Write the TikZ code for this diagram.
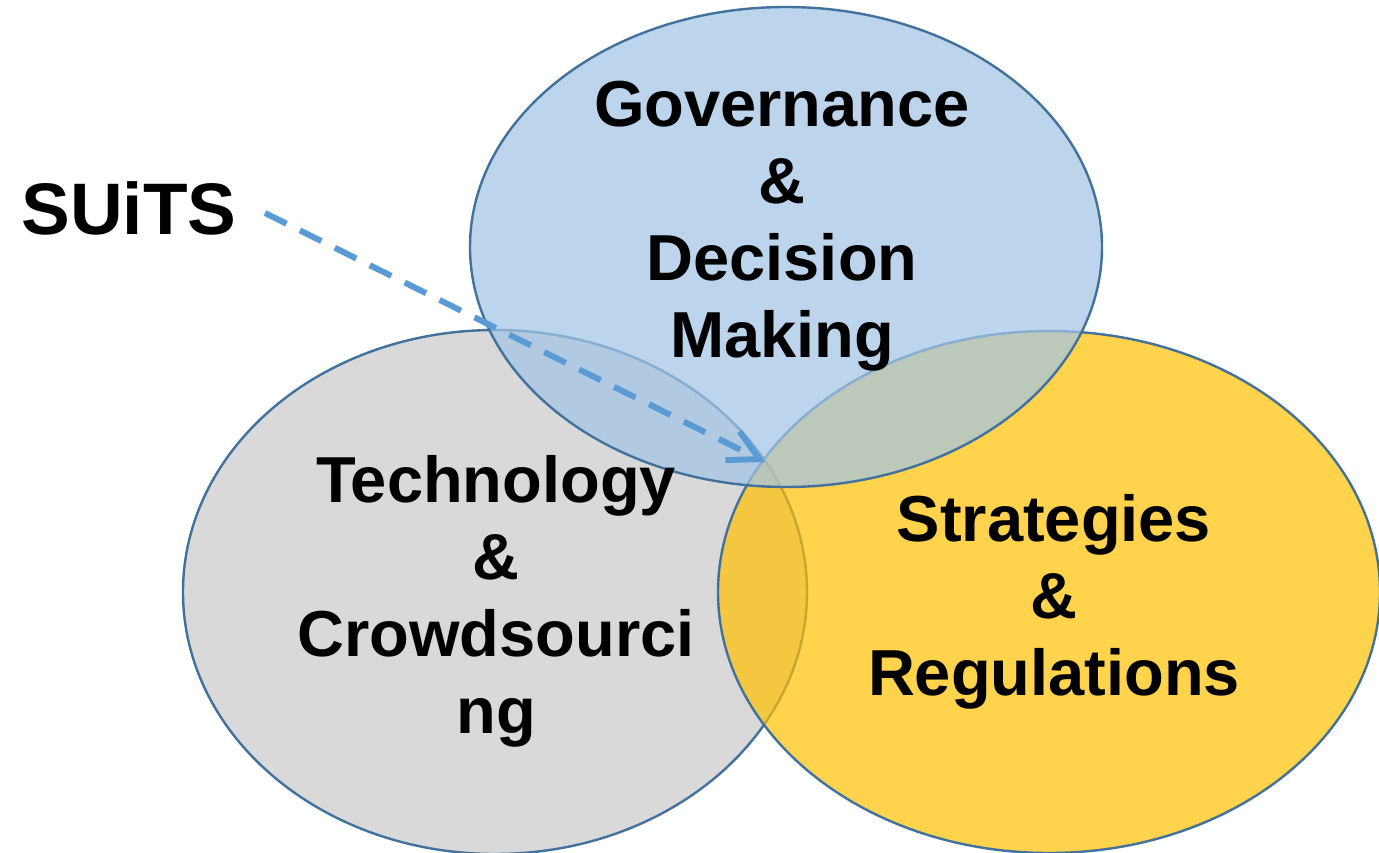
\documentclass[tikz,border=0pt]{standalone}
\usepackage{fontspec}
\setmainfont{Liberation Sans}
\usepackage{tikz}
\usetikzlibrary{arrows.meta}
\usetikzlibrary{shapes}
\definecolor{vennline}{HTML}{41719C}
\definecolor{techgray}{HTML}{D9D9D9}
\definecolor{stratgold}{HTML}{FFC000}
\definecolor{govblue}{HTML}{A3C5E5}
\definecolor{suitsblue}{HTML}{5B9BD5}
\tikzstyle{venn} = [ellipse, draw=vennline, line width=2.4pt]
\tikzstyle{lbl} = [align=center, anchor=base,
    font=\bfseries\fontsize{65}{77}\selectfont]

\begin{document}
\begin{tikzpicture}[x=1pt,y=-1pt,>=Straight Barb,
                    inner sep=0pt]

  \useasboundingbox (0,0) rectangle (1379,853);

  % the three circles, bottom ones first
  \node[venn, fill=techgray, minimum width=624pt, minimum height=524pt]
       (tech)  at (495,592)  {};
  \node[venn, fill=stratgold, fill opacity=.7, minimum width=662pt,
        minimum height=522pt] (strat) at (1049,592) {};
  \node[venn, fill=govblue, fill opacity=.72, minimum width=632pt,
        minimum height=480pt] (gov)   at (786,247)  {};

  % base is the last line
  \node[lbl] (govtext)   at (782,357) {Governance\\\&\\Decision\\Making};
  \node[lbl] (techtext)  at (496,733) {Technology\\\&\\Crowdsourci\\ng};
  \node[lbl] (strattext) at (1054,695) {Strategies\\\&\\Regulations};

  \node[font=\bfseries\fontsize{73}{80}\selectfont, anchor=base]
       (suits) at (129,235) {SUiTS};

  \coordinate (tail) at (265,213);
  \coordinate (core) at (765,462);
  \draw[->, suitsblue, line width=6pt, dash pattern=on 24pt off 15pt,
        arrows={-{Straight Barb[length=30pt,width=32pt]}}]
       (tail) -- (core);
\end{tikzpicture}
\end{document}
